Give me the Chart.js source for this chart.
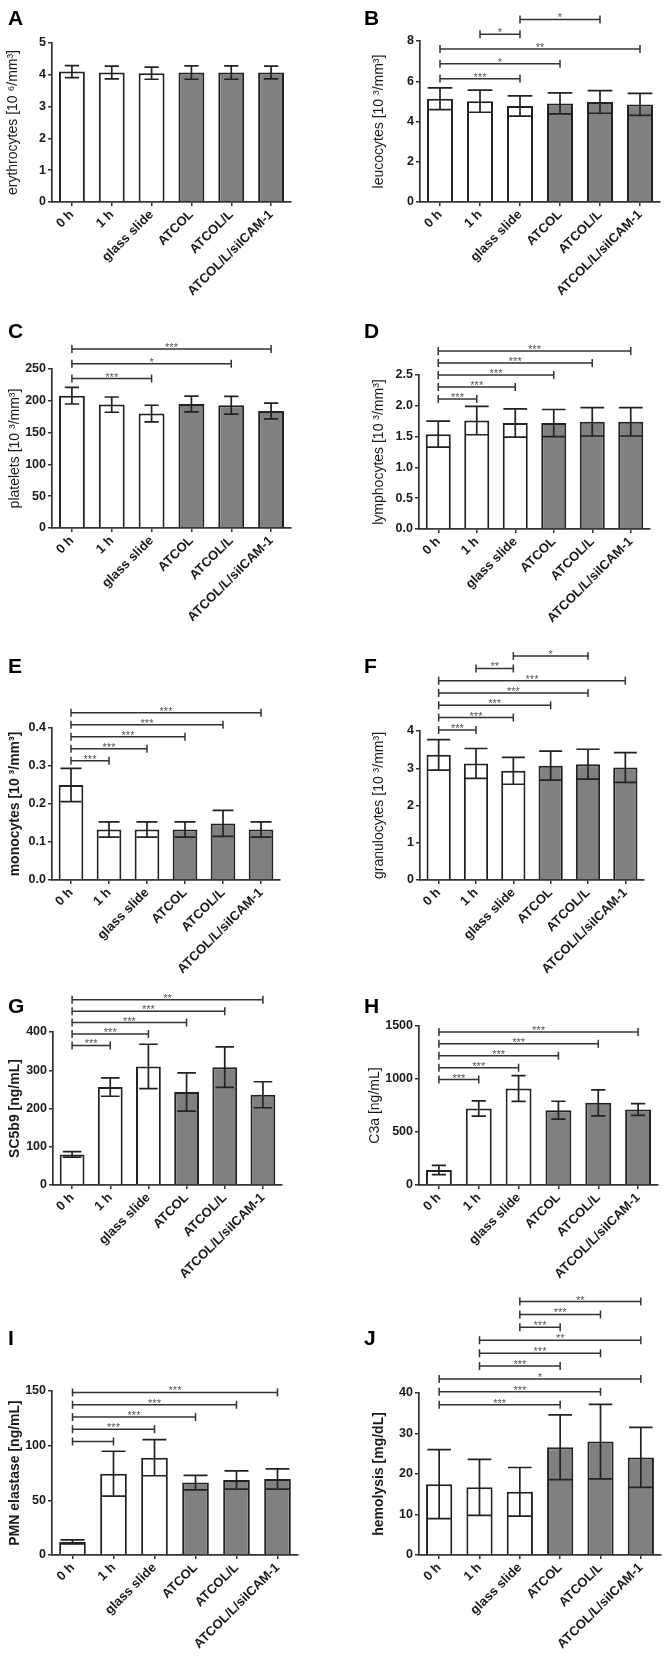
<!DOCTYPE html>
<html>
<head>
<meta charset="utf-8">
<script src="https://cdn.jsdelivr.net/npm/chart.js@4.4.0/dist/chart.umd.min.js"></script>
<style>
  html, body { margin: 0; padding: 0; background: #fff; }
  body { width: 664px; height: 1659px; position: relative; overflow: hidden; }
  canvas { position: absolute; }
</style>
</head>
<body>
<script>
// Groups on the x axis (same for every panel)
const categories = ['0 h', '1 h', 'glass slide', 'ATCOL', 'ATCOL/L', 'ATCOL/L/siICAM-1'];

// A - erythrocytes
const erythrocytesMean = [4.10, 4.07, 4.05, 4.07, 4.07, 4.07];
const erythrocytesSd   = [0.19, 0.20, 0.19, 0.21, 0.21, 0.20];
const erythrocytesTicks = [0, 1, 2, 3, 4, 5];

// B - leucocytes
const leucocytesMean = [5.13, 5.01, 4.77, 4.90, 4.97, 4.85];
const leucocytesSd   = [0.54, 0.55, 0.50, 0.52, 0.56, 0.55];
const leucocytesTicks = [0, 2, 4, 6, 8];
const leucocytesSig = [[0, 2, '***'], [0, 3, '*'], [0, 5, '**'], [1, 2, '*'], [2, 4, '*']];

// C - platelets
const plateletsMean = [208, 194, 180, 195, 193, 184];
const plateletsSd   = [13, 12, 13, 12.5, 14, 12.5];
const plateletsTicks = [0, 50, 100, 150, 200, 250];
const plateletsSig = [[0, 2, '***'], [0, 4, '*'], [0, 5, '***']];

// D - lymphocytes
const lymphocytesMean = [1.54, 1.76, 1.72, 1.72, 1.74, 1.74];
const lymphocytesSd   = [0.21, 0.23, 0.23, 0.22, 0.23, 0.23];
const lymphocytesTicks = [0, 0.5, 1.0, 1.5, 2.0, 2.5];
const lymphocytesSig = [[0, 1, '***'], [0, 2, '***'], [0, 3, '***'], [0, 4, '***'], [0, 5, '***']];

// E - monocytes
const monocytesMean = [0.250, 0.133, 0.133, 0.133, 0.149, 0.133];
const monocytesSd   = [0.044, 0.020, 0.020, 0.020, 0.034, 0.020];
const monocytesTicks = [0, 0.1, 0.2, 0.3, 0.4];
const monocytesSig = [[0, 1, '***'], [0, 2, '***'], [0, 3, '***'], [0, 4, '***'], [0, 5, '***']];

// F - granulocytes
const granulocytesMean = [3.36, 3.13, 2.93, 3.07, 3.11, 3.02];
const granulocytesSd   = [0.41, 0.40, 0.36, 0.39, 0.40, 0.40];
const granulocytesTicks = [0, 1, 2, 3, 4];
const granulocytesSig = [[0, 1, '***'], [0, 2, '***'], [0, 3, '***'], [0, 4, '***'], [0, 5, '***'], [1, 2, '**'], [2, 4, '*']];

// G - SC5b9
const sc5b9Mean = [80, 256, 310, 243, 308, 236];
const sc5b9Sd   = [7, 24, 58, 50, 53, 34];
const sc5b9Ticks = [0, 100, 200, 300, 400];
const sc5b9Sig = [[0, 1, '***'], [0, 2, '***'], [0, 3, '***'], [0, 4, '***'], [0, 5, '**']];

// H - C3a
const c3aMean = [141, 722, 910, 706, 775, 712];
const c3aSd   = [44, 72, 122, 84, 122, 55];
const c3aTicks = [0, 500, 1000, 1500];
const c3aSig = [[0, 1, '***'], [0, 2, '***'], [0, 3, '***'], [0, 4, '***'], [0, 5, '***']];

// I - PMN elastase
const elastaseMean = [12, 74.4, 89, 66.2, 68.6, 69.5];
const elastaseSd   = [1.8, 20.5, 16.5, 6.7, 8.4, 9.2];
const elastaseTicks = [0, 50, 100, 150];
const elastaseSig = [[0, 1, ''], [0, 2, '***'], [0, 3, '***'], [0, 4, '***'], [0, 5, '***']];

// J - hemolysis
const hemolysisMean = [17.5, 16.7, 15.6, 26.6, 28.0, 24.1];
const hemolysisSd   = [8.5, 6.9, 6.0, 8.0, 9.2, 7.4];
const hemolysisTicks = [0, 10, 20, 30, 40];
const hemolysisSig = [[0, 3, '***'], [0, 4, '***'], [0, 5, '*'], [1, 3, '***'], [1, 4, '***'], [1, 5, '**'],
                      [2, 3, '***'], [2, 4, '***'], [2, 5, '**']];

const FONT = "'Liberation Sans', Arial, sans-serif";
const INK = '#222';
const barFill = ['#ffffff', '#ffffff', '#ffffff', '#808080', '#808080', '#808080'];

Chart.defaults.font.family = FONT;
Chart.defaults.color = '#1a1a1a';

// Layout of every panel (canvas box, plot box, label spots)
const panels = [
  { letter: 'A', left: 0, top: 0, height: 330, mean: erythrocytesMean, sd: erythrocytesSd, ticks: erythrocytesTicks, dec: 0,
    title: 'erythrocytes [10 \u2076/mm\u00b3]', bold: false, titleX: 13, plot: { left: 52, right: 291, top: 43, bottom: 202 },
    letterY: 25, cap: 0.55, sig: [], sigBase: 0, sigStep: 0 },
  { letter: 'B', left: 332, top: 0, height: 330, mean: leucocytesMean, sd: leucocytesSd, ticks: leucocytesTicks, dec: 0,
    title: 'leucocytes [10 \u00b3/mm\u00b3]', bold: false, titleX: 47, plot: { left: 88, right: 328, top: 41, bottom: 202 },
    letterY: 25, cap: 0.95, sig: leucocytesSig, sigBase: 6.13, sigStep: 14.8 },
  { letter: 'C', left: 0, top: 318, height: 330, mean: plateletsMean, sd: plateletsSd, ticks: plateletsTicks, dec: 0,
    title: 'platelets [10 \u00b3/mm\u00b3]', bold: false, titleX: 15, plot: { left: 52, right: 291, top: 51, bottom: 210 },
    letterY: 20, cap: 0.55, sig: plateletsSig, sigBase: 235, sigStep: 14.8 },
  { letter: 'D', left: 332, top: 318, height: 330, mean: lymphocytesMean, sd: lymphocytesSd, ticks: lymphocytesTicks, dec: 1,
    title: 'lymphocytes [10 \u00b3/mm\u00b3]', bold: false, titleX: 47, plot: { left: 87, right: 318, top: 57, bottom: 211 },
    letterY: 20, cap: 0.95, sig: lymphocytesSig, sigBase: 2.11, sigStep: 12 },
  { letter: 'E', left: 0, top: 645, height: 335, mean: monocytesMean, sd: monocytesSd, ticks: monocytesTicks, dec: 1,
    title: 'monocytes [10 \u00b3/mm\u00b3]', bold: true, titleX: 15, plot: { left: 52, right: 280, top: 83, bottom: 235 },
    letterY: 28, cap: 0.85, sig: monocytesSig, sigBase: 0.314, sigStep: 12 },
  { letter: 'F', left: 332, top: 645, height: 335, mean: granulocytesMean, sd: granulocytesSd, ticks: granulocytesTicks, dec: 0,
    title: 'granulocytes [10 \u00b3/mm\u00b3]', bold: false, titleX: 47, plot: { left: 88, right: 312, top: 86, bottom: 235 },
    letterY: 28, cap: 0.95, sig: granulocytesSig, sigBase: 4.03, sigStep: 12.3 },
  { letter: 'G', left: 0, top: 985, height: 330, mean: sc5b9Mean, sd: sc5b9Sd, ticks: sc5b9Ticks, dec: 0,
    title: 'SC5b9 [ng/mL]', bold: true, titleX: 15, plot: { left: 53, right: 282, top: 47, bottom: 200 },
    letterY: 28, cap: 0.75, sig: sc5b9Sig, sigBase: 365, sigStep: 11.4 },
  { letter: 'H', left: 332, top: 985, height: 330, mean: c3aMean, sd: c3aSd, ticks: c3aTicks, dec: 0,
    title: 'C3a [ng/mL]', bold: false, titleX: 43, plot: { left: 87, right: 326, top: 41, bottom: 200 },
    letterY: 28, cap: 0.55, sig: c3aSig, sigBase: 995, sigStep: 11.9 },
  { letter: 'I', left: 0, top: 1288, height: 371, mean: elastaseMean, sd: elastaseSd, ticks: elastaseTicks, dec: 0,
    title: 'PMN elastase [ng/mL]', bold: true, titleX: 15, plot: { left: 52, right: 298, top: 103, bottom: 267 },
    letterY: 57, cap: 0.9, sig: elastaseSig, sigBase: 103.7, sigStep: 12.3 },
  { letter: 'J', left: 332, top: 1288, height: 371, mean: hemolysisMean, sd: hemolysisSd, ticks: hemolysisTicks, dec: 0,
    title: 'hemolysis [mg/dL]', bold: true, titleX: 47, plot: { left: 87, right: 329, top: 105, bottom: 267 },
    letterY: 57, cap: 0.9, sig: hemolysisSig, sigBase: 37.1, sigStep: 12.9 }
];

// Error bars, significance brackets and the panel letter
function makeAnnotator(p) {
  return {
    id: 'annotate' + p.letter,
    afterDatasetsDraw(chart) {
      const ctx = chart.ctx;
      const bars = chart.getDatasetMeta(0).data;
      const y = chart.scales.y;
      ctx.save();
      ctx.strokeStyle = INK;
      ctx.lineWidth = 1.7;
      bars.forEach((bar, i) => {
        const hi = y.getPixelForValue(p.mean[i] + p.sd[i]);
        const lo = y.getPixelForValue(p.mean[i] - p.sd[i]);
        const half = bar.width * p.cap / 2;
        ctx.beginPath();
        ctx.moveTo(bar.x, hi); ctx.lineTo(bar.x, lo);
        ctx.moveTo(bar.x - half, hi); ctx.lineTo(bar.x + half, hi);
        ctx.moveTo(bar.x - half, lo); ctx.lineTo(bar.x + half, lo);
        ctx.stroke();
      });

      const base = p.sig.length ? y.getPixelForValue(p.sigBase) : 0;
      ctx.lineWidth = 1.5;
      p.sig.forEach(([a, b, stars], k) => {
        const yy = base - k * p.sigStep;
        const x1 = bars[a].x, x2 = bars[b].x;
        ctx.strokeStyle = '#333';
        ctx.beginPath();
        ctx.moveTo(x1, yy); ctx.lineTo(x2, yy);
        ctx.moveTo(x1, yy - 4); ctx.lineTo(x1, yy + 4);
        ctx.moveTo(x2, yy - 4); ctx.lineTo(x2, yy + 4);
        ctx.stroke();
        ctx.fillStyle = '#555';
        ctx.font = '11px ' + FONT;
        ctx.textAlign = 'center';
        ctx.textBaseline = 'alphabetic';
        ctx.fillText(stars, (x1 + x2) / 2, yy + 2);
      });

      ctx.fillStyle = '#000';
      ctx.font = 'bold 21px ' + FONT;
      ctx.textAlign = 'left';
      ctx.textBaseline = 'alphabetic';
      ctx.fillText(p.letter, p.left ? 32 : 8, p.letterY);
      ctx.restore();
    }
  };
}

function makePanel(p) {
  const canvas = document.createElement('canvas');
  canvas.width = 332;
  canvas.height = p.height;
  canvas.style.left = p.left + 'px';
  canvas.style.top = p.top + 'px';
  document.body.appendChild(canvas);

  const padLeft = p.titleX - 8.4;
  new Chart(canvas, {
    type: 'bar',
    data: {
      labels: categories,
      datasets: [{
        data: p.mean,
        backgroundColor: barFill,
        borderColor: INK,
        borderWidth: 2,
        barPercentage: 0.65,
        categoryPercentage: 1
      }]
    },
    options: {
      responsive: false,
      animation: false,
      events: [],
      layout: { padding: { left: padLeft, top: p.plot.top, right: 332 - p.plot.right, bottom: 0 } },
      plugins: { legend: { display: false }, tooltip: { enabled: false } },
      scales: {
        x: {
          grid: { offset: false, drawOnChartArea: false, tickLength: 4, color: '#333', lineWidth: 1.5 },
          border: { color: '#333', width: 1.7 },
          ticks: { autoSkip: false, maxRotation: 45, minRotation: 45, padding: 1, color: '#1a1a1a',
                   font: { size: 13, weight: 'bold' } },
          afterFit: s => { s.height = p.height - p.plot.bottom; }
        },
        y: {
          min: 0,
          max: p.ticks[p.ticks.length - 1],
          afterBuildTicks: s => { s.ticks = p.ticks.map(v => ({ value: v })); },
          grid: { drawOnChartArea: false, tickLength: 4, color: '#333', lineWidth: 1.5 },
          border: { color: '#333', width: 1.7 },
          ticks: { padding: 2, color: '#1a1a1a', font: { size: 12.5, weight: 'bold' },
                   callback: v => Number(v).toFixed(p.dec) },
          title: { display: true, text: p.title, padding: 0, color: '#1a1a1a',
                   font: { size: 14, weight: p.bold ? 'bold' : 'normal' } },
          afterFit: s => { s.width = p.plot.left - padLeft; }
        }
      }
    },
    plugins: [makeAnnotator(p)]
  });
}

panels.forEach(makePanel);
</script>
</body>
</html>
